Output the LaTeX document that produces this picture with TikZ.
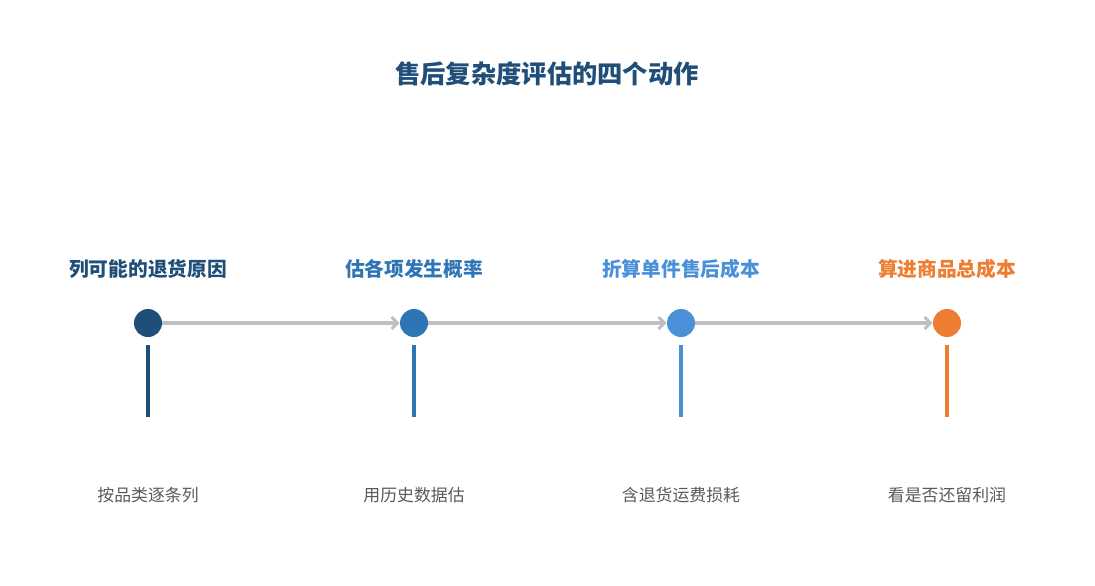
\documentclass[tikz,border=0pt]{standalone}
\usepackage{fontspec}
\setmainfont{Noto Sans CJK SC}
\usetikzlibrary{positioning,arrows.meta}
\definecolor{stepa}{HTML}{1F4E79}
\definecolor{stepb}{HTML}{2E75B6}
\definecolor{stepc}{HTML}{4A90D9}
\definecolor{stepd}{HTML}{ED7D31}
\definecolor{linegray}{HTML}{BFBFBF}
\tikzset{
  dot/.style={circle, fill=#1, minimum size=0.7cm, inner sep=0pt},
  head/.style={text=#1, font=\fontsize{14}{16}\selectfont\bfseries},
  note/.style={text=black!65, font=\fontsize{12}{14}\selectfont},
  stem/.style={draw=#1, line width=2.8pt},
  flow/.style={draw=linegray, line width=2.2pt, -{Straight Barb[length=1.5mm]}}
}
\begin{document}
\begin{tikzpicture}[x=0.025cm,y=-0.025cm]
  \useasboundingbox (0,0) rectangle (1095,585);

  \node[text=stepa, font=\fontsize{18}{20}\selectfont\bfseries] (title) at (547,74) {售后复杂度评估的四个动作};

  \node[dot=stepa] (d1) at (148,323) {};
  \node[dot=stepb] (d2) at (414,323) {};
  \node[dot=stepc] (d3) at (681,323) {};
  \node[dot=stepd] (d4) at (947,323) {};

  \draw[flow] (d1) -- (d2);
  \draw[flow] (d2) -- (d3);
  \draw[flow] (d3) -- (d4);

  \node[head=stepa] (h1) at (148,269) {列可能的退货原因};
  \node[head=stepb] (h2) at (414,269) {估各项发生概率};
  \node[head=stepc] (h3) at (681,269) {折算单件售后成本};
  \node[head=stepd] (h4) at (947,269) {算进商品总成本};

  \coordinate (s1) at (148,417);
  \coordinate (s2) at (414,417);
  \coordinate (s3) at (681,417);
  \coordinate (s4) at (947,417);
  \draw[stem=stepa] ([yshift=-0.2cm]d1.south) -- (s1);
  \draw[stem=stepb] ([yshift=-0.2cm]d2.south) -- (s2);
  \draw[stem=stepc] ([yshift=-0.2cm]d3.south) -- (s3);
  \draw[stem=stepd] ([yshift=-0.2cm]d4.south) -- (s4);

  \node[note] (n1) at (148,495) {按品类逐条列};
  \node[note] (n2) at (414,495) {用历史数据估};
  \node[note] (n3) at (681,495) {含退货运费损耗};
  \node[note] (n4) at (947,495) {看是否还留利润};
\end{tikzpicture}
\end{document}
